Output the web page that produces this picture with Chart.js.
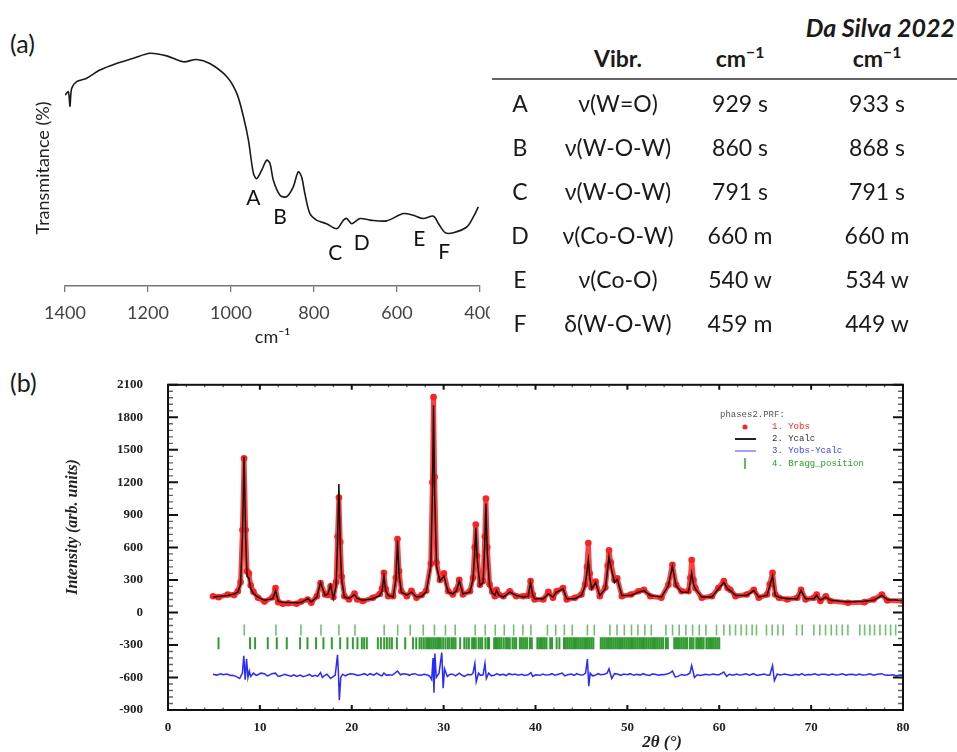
<!DOCTYPE html>
<html>
<head>
<meta charset="utf-8">
<script src="https://cdn.jsdelivr.net/npm/chart.js@4.4.1/dist/chart.umd.min.js"></script>
<style>
  body { margin: 0; background: #fff; width: 957px; height: 752px; overflow: hidden; position: relative;
         font-family: Lato, "Noto Sans", sans-serif; color: #1a1a1a; }
  .abs { position: absolute; }
  .panel { font-size: 25px; line-height: 28px; }
  .cell { position: absolute; width: 160px; text-align: center; font-size: 23px; line-height: 28px; white-space: nowrap; }
  .head { font-weight: bold; }
  sup { font-size: 0.68em; line-height: 0; vertical-align: 0.6em; }
  #irWrap { left: 0; top: 0; width: 490px; height: 352px; overflow: hidden; }
  #xrdWrap { left: 0; top: 352px; width: 957px; height: 400px; }
</style>
</head>
<body>
<div class="abs panel" style="left:10px; top:29px;">(a)</div>
<div class="abs panel" style="left:10px; top:368px;">(b)</div>

<div id="irWrap" class="abs"><canvas id="irChart" width="530" height="352"></canvas></div>
<div id="table"></div>
<div id="xrdWrap" class="abs"><canvas id="xrdChart" width="957" height="400"></canvas></div>

<script>
// (a) IR spectrum
const irWavenumber = [1400, 1392, 1388, 1384, 1372, 1348, 1316, 1276, 1235, 1195, 1155, 1115, 1083, 1051, 1010, 986, 970, 958, 946, 938, 926, 914, 906, 898, 882, 866, 850, 838, 830, 822, 810, 794, 770, 745, 729, 721, 709, 689, 665, 625, 585, 561, 537, 512, 500, 484, 464, 432, 416, 404];
const irTransmittance = [80.9, 82.3, 76.2, 83.7, 86.6, 88.0, 91.5, 94.3, 96.5, 98.6, 97.5, 95.0, 96.0, 94.3, 88.7, 81.6, 71.7, 61.8, 47.7, 45.5, 49.1, 53.3, 51.9, 44.8, 38.5, 37.8, 42.0, 48.4, 46.3, 39.2, 30.7, 27.9, 26.4, 24.3, 27.9, 28.6, 26.4, 28.6, 27.9, 27.6, 30.7, 30.0, 28.6, 29.6, 26.4, 22.6, 22.6, 25.0, 29.3, 33.5];
const irTicks = [1400, 1200, 1000, 800, 600, 400];

// band letters and where they sit (cm-1, %T)
const bandLetters = ['A', 'B', 'C', 'D', 'E', 'F'];
const bandLabelAt = [[946, 37], [882, 29.3], [749, 13.7], [685, 18], [546, 20], [486, 14.4]];

// table
const vibModes = ['ν(W=O)', 'ν(W-O-W)', 'ν(W-O-W)', 'ν(Co-O-W)', 'ν(Co-O)', 'δ(W-O-W)'];
const thisWork = ['929 s', '860 s', '791 s', '660 m', '540 w', '459 m'];
const daSilva = ['933 s', '868 s', '791 s', '660 m', '534 w', '449 w'];

// (b) XRD Rietveld plot
const xrdAngles = [4.9, 5.5, 6.5, 7.2, 7.6, 7.9, 8.1, 8.28, 8.45, 8.6, 8.8, 9.0, 9.3, 9.8, 10.5, 11.4, 11.7, 12.0, 12.5, 13.1, 14.0, 14.5, 15.2, 15.6, 16.2, 16.6, 17.1, 17.4, 17.7, 18.0, 18.3, 18.45, 18.6, 18.75, 18.9, 19.2, 19.7, 20.3, 20.6, 21.2, 22.3, 23.05, 23.3, 23.5, 23.7, 23.97, 24.5, 24.8, 24.98, 25.15, 25.4, 26.0, 26.5, 27.05, 27.6, 28.1, 28.6, 28.78, 28.9, 29.02, 29.23, 29.6, 30.03, 30.5, 31.0, 31.4, 31.7, 32.1, 32.86, 33.2, 33.38, 33.5, 33.65, 33.95, 34.3, 34.48, 34.6, 34.75, 35.0, 35.3, 35.58, 35.76, 36.0, 36.5, 37.2, 37.9, 38.67, 39.2, 39.46, 39.7, 39.9, 40.85, 41.4, 41.9, 42.3, 43.0, 43.4, 44.3, 45.0, 45.4, 45.6, 45.75, 45.9, 46.1, 46.55, 47.0, 47.6, 47.85, 48.0, 48.2, 48.6, 48.9, 49.4, 50.4, 51.2, 51.8, 52.5, 53.7, 54.46, 54.9, 55.3, 55.9, 56.64, 56.85, 57.0, 57.2, 57.4, 58.1, 59.2, 59.9, 60.5, 60.9, 61.2, 61.77, 63.0, 63.76, 64.3, 65.2, 65.5, 65.8, 66.1, 66.5, 67.4, 68.5, 68.9, 69.4, 70.3, 70.6, 71.0, 71.6, 72.1, 74.0, 75.8, 76.8, 77.7, 78.3, 80.0];
const yCalc = [142, 148, 157, 170, 187, 260, 700, 1436, 700, 330, 320, 220, 175, 142, 112, 127, 202, 103, 95, 91, 90, 91, 127, 97, 142, 276, 157, 170, 252, 127, 246, 650, 1185, 600, 306, 142, 130, 163, 130, 112, 127, 157, 200, 335, 200, 157, 142, 300, 662, 350, 187, 160, 187, 142, 150, 187, 425, 1100, 1912, 1100, 425, 291, 335, 187, 172, 200, 291, 172, 187, 306, 550, 782, 500, 246, 276, 650, 1005, 550, 246, 180, 157, 202, 160, 142, 187, 157, 142, 150, 276, 160, 127, 127, 172, 142, 187, 217, 127, 127, 157, 246, 380, 484, 330, 217, 276, 157, 217, 400, 514, 425, 276, 306, 157, 157, 187, 202, 157, 142, 246, 425, 246, 187, 187, 280, 365, 260, 217, 142, 142, 217, 276, 217, 202, 157, 157, 202, 142, 157, 246, 335, 157, 140, 127, 127, 202, 127, 127, 157, 112, 142, 112, 97, 103, 112, 157, 118, 112];
const yObs = [150, 140, 165, 160, 195, 280, 760, 1421, 760, 380, 360, 250, 190, 135, 100, 140, 225, 95, 80, 85, 80, 100, 120, 90, 150, 270, 165, 160, 240, 140, 280, 700, 1060, 650, 330, 150, 120, 175, 120, 105, 135, 170, 220, 365, 215, 150, 150, 320, 677, 380, 195, 150, 200, 135, 160, 200, 450, 1200, 1986, 1250, 460, 300, 360, 195, 165, 210, 300, 165, 195, 320, 600, 811, 520, 255, 290, 700, 1050, 600, 260, 190, 150, 210, 165, 150, 195, 150, 150, 155, 290, 165, 120, 120, 190, 135, 195, 225, 120, 135, 165, 260, 420, 640, 360, 230, 285, 150, 230, 430, 573, 460, 300, 315, 150, 165, 195, 210, 150, 135, 255, 440, 255, 195, 195, 320, 484, 300, 225, 135, 150, 225, 290, 225, 210, 150, 165, 210, 135, 165, 260, 365, 165, 135, 120, 135, 210, 120, 135, 165, 105, 150, 105, 90, 95, 120, 165, 110, 105];

// difference curve, [2theta, intensity] as read (offset baseline ~ -575)
const diffPoints = [
  [4.9, -570], [5.3, -578], [5.7, -565], [6.0, -575], [6.4, -568], [6.8, -582], [7.0, -580], [7.4, -590], [7.8, -610],
  [8.1, -560], [8.25, -400], [8.4, -620], [8.55, -430], [8.7, -600], [8.85, -540], [9.0, -590], [9.3, -560], [9.6, -580],
  [9.8, -575], [10.1, -560], [10.5, -565], [10.8, -585], [11.0, -580], [11.3, -565], [11.7, -560], [12.0, -590], [12.3, -585],
  [12.7, -570], [13.0, -580], [13.4, -588], [13.7, -575], [14.0, -590], [14.4, -578], [14.7, -592], [15.0, -585], [15.4, -572],
  [15.7, -590], [16.0, -580], [16.3, -590], [16.6, -555], [16.8, -600], [17.0, -585], [17.3, -570], [17.7, -610], [18.0, -590],
  [18.2, -580], [18.45, -390], [18.55, -560], [18.65, -810], [18.8, -600], [19.0, -570], [19.3, -585], [19.5, -575], [19.9, -565],
  [20.3, -570], [20.6, -582], [21.0, -575], [21.4, -565], [21.7, -580], [22.0, -565], [22.4, -578], [22.7, -560], [23.0, -575],
  [23.3, -585], [23.5, -560], [23.8, -580], [24.0, -575], [24.4, -580], [24.7, -560], [24.98, -540], [25.3, -575], [25.6, -565],
  [26.0, -570], [26.3, -580], [26.5, -570], [26.9, -565], [27.2, -578], [27.5, -580], [27.9, -570], [28.3, -580], [28.5, -590],
  [28.7, -620], [28.85, -420], [28.95, -740], [29.05, -380], [29.2, -600], [29.5, -560], [29.8, -370], [29.95, -700], [30.1, -520],
  [30.4, -590], [30.7, -570], [31.0, -570], [31.3, -585], [31.7, -560], [32.0, -580], [32.3, -590], [32.6, -572], [33.0, -575],
  [33.2, -560], [33.4, -470], [33.55, -640], [33.8, -560], [34.0, -580], [34.3, -575], [34.5, -470], [34.65, -610], [34.9, -560],
  [35.2, -585], [35.5, -580], [35.8, -565], [36.1, -578], [36.5, -570], [36.8, -582], [37.1, -565], [37.5, -575], [37.8, -568],
  [38.1, -580], [38.5, -570], [38.8, -582], [39.2, -575], [39.5, -555], [39.7, -590], [40.0, -575], [40.5, -580], [40.8, -568],
  [41.1, -578], [41.5, -575], [41.8, -565], [42.1, -580], [42.5, -570], [42.9, -560], [43.2, -585], [43.5, -575], [43.9, -568],
  [44.2, -580], [44.5, -565], [44.9, -578], [45.2, -575], [45.45, -560], [45.65, -430], [45.8, -680], [45.95, -560], [46.2, -585],
  [46.5, -580], [46.8, -565], [47.1, -575], [47.5, -570], [47.8, -560], [48.0, -520], [48.3, -610], [48.6, -565], [49.0, -570],
  [49.3, -582], [49.6, -568], [50.0, -575], [50.3, -565], [50.7, -580], [51.0, -570], [51.4, -578], [51.7, -565], [52.0, -575],
  [52.4, -582], [52.7, -568], [53.0, -570], [53.4, -580], [53.7, -572], [54.0, -575], [54.4, -565], [54.7, -555], [54.9, -540],
  [55.2, -595], [55.5, -590], [55.9, -572], [56.2, -580], [56.5, -575], [56.8, -560], [57.0, -490], [57.3, -600], [57.6, -575],
  [58.0, -582], [58.5, -570], [58.9, -578], [59.3, -568], [59.7, -575], [60.0, -575], [60.3, -560], [60.5, -550], [60.8, -590],
  [61.1, -570], [61.5, -580], [61.9, -568], [62.2, -578], [62.5, -575], [62.9, -565], [63.3, -578], [63.7, -565], [64.1, -582],
  [64.5, -575], [64.9, -568], [65.2, -578], [65.5, -580], [65.8, -490], [66.0, -630], [66.3, -570], [66.7, -578], [67.1, -568],
  [67.5, -575], [67.9, -582], [68.3, -570], [68.7, -578], [69.0, -565], [69.3, -580], [69.7, -572], [70.0, -575], [70.4, -565],
  [70.8, -578], [71.1, -570], [71.5, -570], [71.9, -580], [72.3, -568], [72.7, -576], [73.0, -575], [73.4, -566], [73.8, -578],
  [74.1, -572], [74.5, -570], [74.9, -580], [75.2, -568], [75.6, -576], [76.0, -575], [76.4, -566], [76.8, -580], [77.2, -570],
  [77.7, -565], [78.0, -578], [78.5, -580], [78.9, -575], [79.3, -585], [79.7, -578], [80.0, -580]
];

const braggPhase1 = [8.3, 11.75, 14.47, 16.65, 18.6, 20.35, 23.53, 25.0, 26.36, 27.78, 29.0, 30.2, 31.26, 33.44, 34.53, 35.62, 36.6, 37.62, 38.63, 39.5, 41.3, 42.2, 43.14, 44.0, 45.65, 46.4, 48.1, 48.87, 49.67, 50.45, 51.15, 51.9, 52.6, 54.2, 54.92, 55.64, 56.37, 57.1, 57.83, 58.55, 59.7, 60.5, 61.15, 61.77, 62.38, 62.96, 63.58, 64.05, 65.14, 65.76, 66.38, 66.96, 68.42, 69.03, 70.3, 70.95, 71.57, 72.19, 72.77, 73.39, 74.0, 75.3, 75.82, 76.4, 76.9, 77.49, 78.1, 78.65, 79.2];
const braggPhase2 = [5.5, 8.93, 9.48, 10.86, 11.84, 12.93, 14.38, 15.18, 16.12, 16.92, 17.83, 18.74, 19.53, 20.12, 20.62, 21.1, 21.35, 21.64, 22.84, 23.17, 23.53, 23.82, 24.11, 24.37, 24.91, 25.82, 26.66, 27.02, 27.38, 27.6, 27.85, 28.1, 28.3, 28.5, 28.7, 28.9, 29.1, 29.3, 29.5, 29.7, 29.95, 30.2, 30.45, 30.65, 30.9, 31.1, 31.3, 31.8, 32.25, 32.5, 32.75, 33.1, 33.3, 33.5, 33.8, 34.0, 34.2, 34.55, 34.8, 34.95, 35.5, 35.7, 35.9, 36.1, 36.3, 36.55, 36.8, 37.0, 37.2, 37.5, 37.7, 37.9, 38.3, 38.5, 38.7, 38.9, 39.1, 39.4, 39.6, 40.2, 40.4, 40.6, 40.8, 41.0, 41.2, 41.6, 41.8, 42.3, 42.6, 43.1, 43.3, 43.5, 43.7, 43.9, 44.1, 44.3, 44.5, 44.7, 44.9, 45.1, 45.3, 45.5, 45.7, 45.9, 46.1, 46.3, 47.1, 47.3, 47.5, 47.7, 47.9, 48.1, 48.3, 48.5, 48.7, 48.9, 49.1, 49.3, 49.5, 49.7, 49.9, 50.1, 50.3, 50.5, 50.7, 50.9, 51.1, 51.3, 51.5, 51.7, 51.9, 52.1, 52.3, 52.5, 52.7, 52.9, 53.1, 53.3, 53.5, 53.7, 53.9, 54.2, 54.4, 55.1, 55.3, 55.5, 55.7, 55.9, 56.1, 56.3, 56.5, 56.8, 57.0, 57.2, 57.5, 57.7, 57.9, 58.1, 58.3, 58.6, 58.8, 59.0, 59.2, 59.4, 59.6, 59.8, 60.0];
const braggRow1 = -163, braggRow2 = -284;

// ---- table as text ----
const table = document.getElementById('table');
function cell(txt, cx, cy, extra) {
  const d = document.createElement('div');
  d.className = 'cell' + (extra ? ' ' + extra : '');
  d.style.left = (cx - 80) + 'px';
  d.style.top = (cy - 14) + 'px';
  d.innerHTML = txt;
  table.appendChild(d);
}
const dsTitle = document.createElement('div');
dsTitle.className = 'abs';
dsTitle.style.cssText = 'right:2px; top:12px; font-size:25px; line-height:30px; font-weight:bold; font-style:italic;';
dsTitle.textContent = 'Da Silva 2022';
table.appendChild(dsTitle);
cell('Vibr.', 618, 58, 'head');
cell('cm<sup>−1</sup>', 740, 58, 'head');
cell('cm<sup>−1</sup>', 877, 58, 'head');
const rule = document.createElement('div');
rule.className = 'abs';
rule.style.cssText = 'left:492px; top:78px; width:465px; height:2px; background:#666;';
table.appendChild(rule);
bandLetters.forEach((l, i) => {
  const cy = 103 + 44 * i;
  cell(l, 520, cy);
  cell(vibModes[i], 618, cy);
  cell(thisWork[i], 740, cy);
  cell(daSilva[i], 877, cy);
});

// ---- (a) IR ----
const bandLabels = {
  id: 'bandLabels',
  afterDatasetsDraw(chart) {
    const {ctx, scales: {x, y}} = chart;
    ctx.save();
    ctx.fillStyle = '#111';
    ctx.font = '21px Lato, "Noto Sans", sans-serif';
    ctx.textAlign = 'center';
    ctx.textBaseline = 'middle';
    bandLetters.forEach((l, i) => {
      ctx.fillText(l, x.getPixelForValue(bandLabelAt[i][0]), y.getPixelForValue(bandLabelAt[i][1]));
    });
    ctx.restore();
  }
};

new Chart(document.getElementById('irChart'), {
  type: 'line',
  data: {
    datasets: [{
      data: irWavenumber.map((w, i) => ({x: w, y: irTransmittance[i]})),
      borderColor: '#1a1a1a',
      borderWidth: 1.6,
      pointRadius: 0,
      tension: 0.3,
      fill: false
    }]
  },
  options: {
    responsive: false,
    animation: false,
    devicePixelRatio: 1,
    layout: {padding: {top: 50, right: 50, left: 0, bottom: 0}},
    plugins: {legend: {display: false}, tooltip: {enabled: false}},
    scales: {
      x: {
        type: 'linear', reverse: true, min: 400, max: 1400,
        afterBuildTicks: s => { s.ticks = irTicks.map(v => ({value: v})); },
        ticks: {color: '#444', font: {family: 'Lato', size: 18}, padding: 10, maxRotation: 0, autoSkip: false,
                callback: v => String(v)},
        grid: {drawOnChartArea: false, drawTicks: true, tickLength: 6, color: '#777', lineWidth: 1.3},
        border: {display: true, color: '#777', width: 1.5},
        title: {display: true, text: 'cm⁻¹', color: '#222', font: {family: 'Lato', size: 18}, padding: {top: 4, bottom: 4}},
        afterFit: s => { s.height = 66; }
      },
      y: {
        min: 0, max: 100,
        ticks: {display: false},
        grid: {display: false, drawTicks: false},
        border: {display: false},
        title: {display: true, text: 'Transmitance (%)', color: '#222', font: {family: 'Lato', size: 18}, padding: {top: 32, bottom: 0}},
        afterFit: s => { s.width = 65; }
      }
    }
  },
  plugins: [bandLabels]
});

// ---- (b) XRD ----
const xrdDecor = {
  id: 'xrdDecor',
  afterDraw(chart) {
    const {ctx, chartArea: a, scales: {x, y}} = chart;
    ctx.save();
    // inward ticks on all four sides
    for (let v = -900; v <= 2100; v += 60) {
      const py = y.getPixelForValue(v);
      const major = v % 300 === 0;
      const len = major ? 10 : 5;
      ctx.strokeStyle = major ? '#111' : '#666';
      ctx.lineWidth = major ? 2 : 1.4;
      ctx.beginPath();
      ctx.moveTo(a.left, py); ctx.lineTo(a.left + len, py);
      ctx.moveTo(a.right, py); ctx.lineTo(a.right - len, py);
      ctx.stroke();
    }
    for (let v = 0; v <= 80; v += 2) {
      const px = x.getPixelForValue(v);
      const major = v % 10 === 0;
      const len = major ? 5 : 2.5;
      ctx.strokeStyle = major ? '#111' : '#666';
      ctx.lineWidth = major ? 2 : 1.4;
      ctx.beginPath();
      ctx.moveTo(px, a.top); ctx.lineTo(px, a.top + len);
      ctx.moveTo(px, a.bottom); ctx.lineTo(px, a.bottom - len);
      ctx.stroke();
    }
    ctx.strokeStyle = '#111';
    ctx.lineWidth = 2;
    ctx.strokeRect(a.left, a.top, a.right - a.left, a.bottom - a.top);

    // axis titles
    ctx.fillStyle = '#222';
    ctx.textAlign = 'center';
    ctx.textBaseline = 'middle';
    ctx.font = 'italic bold 17px "Liberation Serif", "Times New Roman", serif';
    ctx.fillText('2θ (°)', 662, 391);
    ctx.font = 'italic bold 16px "Liberation Serif", "Times New Roman", serif';
    ctx.save();
    ctx.translate(73, 175);
    ctx.rotate(-Math.PI / 2);
    ctx.fillText('Intensity (arb. units)', 0, 0);
    ctx.restore();

    // legend
    ctx.font = '9px "Liberation Mono", monospace';
    ctx.textAlign = 'left';
    ctx.fillStyle = '#555';
    ctx.fillText('phases2.PRF:', 720, 63);
    ctx.fillStyle = '#ff2020';
    ctx.beginPath(); ctx.arc(745, 75, 2.5, 0, Math.PI * 2); ctx.fill();
    ctx.fillText('1. Yobs', 772, 75);
    ctx.strokeStyle = '#222'; ctx.lineWidth = 2;
    ctx.beginPath(); ctx.moveTo(735, 87); ctx.lineTo(756, 87); ctx.stroke();
    ctx.fillStyle = '#333';
    ctx.fillText('2. Ycalc', 772, 87);
    ctx.strokeStyle = '#6060ff'; ctx.lineWidth = 1.2;
    ctx.beginPath(); ctx.moveTo(735, 99); ctx.lineTo(756, 99); ctx.stroke();
    ctx.fillStyle = '#4040ff';
    ctx.fillText('3. Yobs-Ycalc', 772, 99);
    ctx.strokeStyle = '#22a022'; ctx.lineWidth = 1.4;
    ctx.beginPath(); ctx.moveTo(745, 106); ctx.lineTo(745, 117); ctx.stroke();
    ctx.fillStyle = '#22a022';
    ctx.fillText('4. Bragg_position', 772, 112);
    ctx.restore();
  }
};

new Chart(document.getElementById('xrdChart'), {
  type: 'line',
  data: {
    datasets: [
      {
        label: 'Ycalc', order: 0,
        data: xrdAngles.map((t, i) => ({x: t, y: yCalc[i]})),
        borderColor: '#111', borderWidth: 1.5, pointRadius: 0, tension: 0
      },
      {
        label: 'Yobs', order: 1,
        data: xrdAngles.map((t, i) => ({x: t, y: yObs[i]})),
        borderColor: 'rgba(255,30,30,0.85)', borderWidth: 5, borderJoinStyle: 'round', borderCapStyle: 'round',
        pointRadius: 3.3, pointBackgroundColor: '#ff2020', pointBorderWidth: 0, tension: 0
      },
      {
        label: 'Yobs-Ycalc', order: 2,
        data: diffPoints.map(p => ({x: p[0], y: p[1]})),
        borderColor: '#2a2aff', borderWidth: 1.5, pointRadius: 0, tension: 0
      },
      {
        label: 'Bragg 1', order: 3, showLine: false,
        data: braggPhase1.map(t => ({x: t, y: braggRow1})),
        pointStyle: 'line', rotation: 90, pointRadius: 5.5,
        pointBorderColor: 'rgba(20,150,20,0.6)', pointBorderWidth: 1.6
      },
      {
        label: 'Bragg 2', order: 3, showLine: false,
        data: braggPhase2.map(t => ({x: t, y: braggRow2})),
        pointStyle: 'line', rotation: 90, pointRadius: 6,
        pointBorderColor: 'rgba(0,130,0,0.8)', pointBorderWidth: 2
      }
    ]
  },
  options: {
    responsive: false,
    animation: false,
    devicePixelRatio: 1,
    layout: {padding: {top: 22, right: 54, left: 0, bottom: 0}},
    plugins: {legend: {display: false}, tooltip: {enabled: false}},
    scales: {
      x: {
        type: 'linear', min: 0, max: 80,
        ticks: {stepSize: 10, padding: 10, color: '#222', maxRotation: 0, autoSkip: false,
                font: {family: 'Liberation Serif', size: 13, weight: 'bold'}, callback: v => String(v)},
        grid: {display: false, drawTicks: false},
        border: {display: false},
        afterFit: s => { s.height = 42; }
      },
      y: {
        min: -900, max: 2100,
        ticks: {stepSize: 300, padding: 25, color: '#222', autoSkip: false,
                font: {family: 'Liberation Serif', size: 13, weight: 'bold'}, callback: v => String(v)},
        grid: {display: false, drawTicks: false},
        border: {display: false},
        afterFit: s => { s.width = 168; }
      }
    }
  },
  plugins: [xrdDecor]
});
</script>
</body>
</html>
